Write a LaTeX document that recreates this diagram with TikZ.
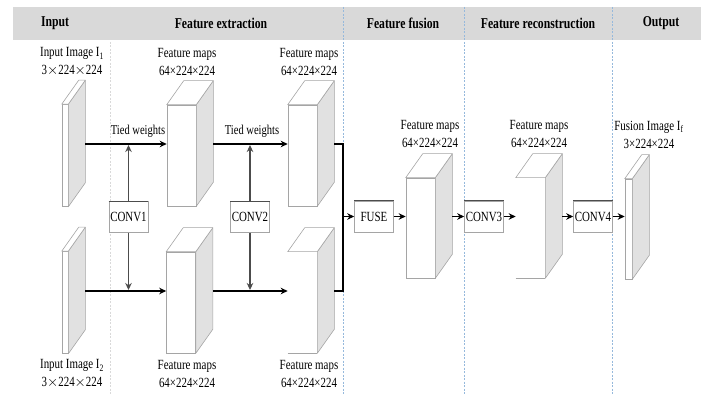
\documentclass[tikz,border=0pt]{standalone}
\usepackage{fontspec}
\setmainfont[FakeStretch=0.78]{Liberation Serif}
\usetikzlibrary{arrows.meta}
\definecolor{bordegris}{RGB}{165,165,165}
\definecolor{caragris}{RGB}{225,225,225}
\definecolor{bandagris}{RGB}{217,217,217}
\definecolor{azulclaro}{RGB}{150,185,220}
\tikzstyle{mapa} = [rectangle, draw=bordegris, fill=white, line width=0.6pt, inner sep=0pt]
\tikzstyle{abierta} = [mapa, draw=none]
\tikzstyle{lado} = [draw=bordegris, fill=caragris, line width=0.6pt, line join=round]
\tikzstyle{tapa} = [draw=bordegris, fill=white, line width=0.6pt, line join=round]
\tikzstyle{conv} = [rectangle, draw=bordegris, fill=white, line width=0.6pt, minimum width=39pt, minimum height=31pt, inner sep=0pt, font=\fontsize{14}{17}\selectfont]
\tikzstyle{texto} = [align=center, inner sep=0pt, font=\fontsize{14}{18}\selectfont]
\tikzstyle{titulo} = [inner sep=0pt, font=\bfseries\fontsize{15}{18}\selectfont]
\tikzstyle{arrow} = [line width=1.2pt,-{Stealth[length=7pt,width=6.5pt]}]
\tikzstyle{arrowgris} = [arrow, draw=black!70, fill=black!70]
\tikzstyle{separador} = [draw=azulclaro, line width=0.6pt, dash pattern=on 2pt off 1.5pt]
% cara lateral y tapa de un bloque
\newcommand{\prisma}[1]{%
  \draw[lado] (#1.north east) -- ([shift={(17,-24)}]#1.north east) -- ([shift={(17,-24)}]#1.south east) -- (#1.south east) -- cycle;
  \draw[tapa] (#1.north west) -- ([shift={(17,-24)}]#1.north west) -- ([shift={(17,-24)}]#1.north east) -- (#1.north east) -- cycle;}
% borde oscuro arriba de las cajas
\newcommand{\techo}[1]{\draw[line width=1.2pt, black!70] (#1.north west) -- (#1.north east);}

\begin{document}
\begin{tikzpicture}[x=1pt, y=-1pt]
        \useasboundingbox (0,0) rectangle (701,395);
        % cabecera
        \fill[bandagris] (13,7) rectangle (701,40);
        \draw[separador, draw=black!15] (110,7) -- (110,395);
        \foreach \xs in {343,464,612}
            \draw[separador] (\xs,7) -- (\xs,395);
        \node (tin) [titulo] at (55,23) {Input};
        \node (tfe) [titulo] at (221,23) {Feature extraction};
        \node (tff) [titulo] at (403,23) {Feature fusion};
        \node (tfr) [titulo] at (538,23) {Feature reconstruction};
        \node (tout) [titulo] at (661,23) {Output};

        % bloques
        \node (in1) [mapa, minimum width=6pt, minimum height=102pt] at (65,155.5) {};
        \node (fm1) [mapa, minimum width=29pt, minimum height=101pt] at (181.5,155.5) {};
        \node (fm2) [mapa, minimum width=29pt, minimum height=101pt] at (302.5,155.5) {};
        \node (in2) [mapa, minimum width=6pt, minimum height=102pt] at (65,302.5) {};
        \node (fm3) [mapa, minimum width=29pt, minimum height=101pt] at (181,302.5) {};
        \node (fm4) [abierta, minimum width=29pt, minimum height=101pt] at (302.5,302.5) {};
        \node (fus) [mapa, minimum width=29pt, minimum height=100pt] at (420.5,228) {};
        \node (rec) [abierta, minimum width=29pt, minimum height=100pt] at (530.5,228) {};
        \node (out) [mapa, minimum width=7pt, minimum height=100pt] at (628.5,229) {};
        \foreach \b in {in1,fm1,fm2,in2,fm3,fm4,fus,rec,out}
            {\prisma{\b}}
        \draw[bordegris, line width=0.6pt] (fm4.south west) -- (fm4.south east);
        \draw[bordegris, line width=0.6pt] (rec.south west) -- (rec.south east);

        % cajas
        \node (conv1) [conv] at (128.5,217) {CONV1};
        \node (conv2) [conv] at (250,217) {CONV2};
        \node (fuse) [conv] at (374,216.5) {FUSE};
        \node (conv3) [conv] at (484,216.5) {CONV3};
        \node (conv4) [conv] at (593,216.5) {CONV4};
        \foreach \c in {conv1,conv2,fuse,conv3,conv4}
            {\techo{\c}}

        % etiquetas
        \node (lin1) [texto] at (72,62) {Input Image I\textsubscript{1}\\3$\times$224$\times$224};
        \node (lfm1) [texto] at (187,62) {Feature maps\\64×224×224};
        \node (lfm2) [texto] at (309,62) {Feature maps\\64×224×224};
        \node (lin2) [texto] at (72,374) {Input Image I\textsubscript{2}\\3$\times$224$\times$224};
        \node (lfm3) [texto] at (187,374) {Feature maps\\64×224×224};
        \node (lfm4) [texto] at (309,374) {Feature maps\\64×224×224};
        \node (lfus) [texto] at (430,134) {Feature maps\\64×224×224};
        \node (lrec) [texto] at (539,134) {Feature maps\\64×224×224};
        \node (lout) [texto] at (649,135) {Fusion Image I\textsubscript{f}\\3×224×224};
        \node (tw1) [texto, font=\fontsize{13.5}{16}\selectfont] at (138,131) {Tied weights};
        \node (tw2) [texto, font=\fontsize{13.5}{16}\selectfont] at (252,131) {Tied weights};

        % conexiones
        \draw [arrow] ([shift={(17,-11.5)}]in1.east) -- ([shift={(0,-11.5)}]fm1.west);
        \draw [arrow] ([shift={(17,-11.5)}]fm1.east) -- ([shift={(0,-11.5)}]fm2.west);
        \draw [arrow] ([shift={(17,-11.5)}]in2.east) -- ([shift={(0,-11.5)}]fm3.west);
        \draw [arrow] ([shift={(17,-11.5)}]fm3.east) -- ([shift={(0,-11.5)}]fm4.west);
        \coordinate (fila1) at (0,145);
        \coordinate (fila2) at (0,290);
        \draw [arrowgris] (conv1.north) -- (conv1.north |- fila1);
        \draw [arrowgris] (conv1.south) -- (conv1.south |- fila2);
        \draw [arrowgris] (conv2.north) -- (conv2.north |- fila1);
        \draw [arrowgris] (conv2.south) -- (conv2.south |- fila2);
        \coordinate (union) at (343,216.5);
        \draw [line width=1.2pt] ([shift={(17,-11.5)}]fm2.east) -| (union) |- ([shift={(17,-11.5)}]fm4.east);
        \draw [arrow] (union) -- (fuse.west);
        \draw [arrow] (fuse.east) -- ([shift={(0,-11.5)}]fus.west);
        \draw [arrow] ([shift={(17,-11.5)}]fus.east) -- (conv3.west);
        \draw [arrow] (conv3.east) -- ([shift={(0,-11.5)}]rec.west);
        \draw [arrow] ([shift={(17,-11.5)}]rec.east) -- (conv4.west);
        \draw [arrow] (conv4.east) -- ([shift={(0,-12.5)}]out.west);
    \end{tikzpicture}
\end{document}
